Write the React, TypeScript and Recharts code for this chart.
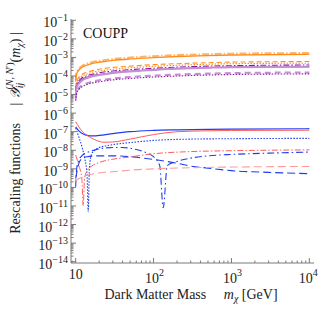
import { LineChart, Line, XAxis, YAxis } from "recharts"

const W = 320
const H = 314
const SERIF = "'Liberation Serif', 'DejaVu Serif', serif"
const FRAME = "#7a7a7a"

// orange / purple family, sampled on a common mass grid (GeV)
const massTop = [10, 10.2, 10.5, 11, 12, 14, 17, 20, 30, 50, 100, 200, 500, 1000, 10000]
const orangeDashDot = [6.1e-5, 1.4e-4, 1.9e-4, 2.5e-4, 3.5e-4, 4.7e-4, 5.9e-4, 6.6e-4, 8.3e-4, 1.0e-3, 1.18e-3, 1.35e-3, 1.51e-3, 1.62e-3, 1.74e-3]
const orangeSolid = [5.1e-5, 1.15e-4, 1.6e-4, 2.1e-4, 2.9e-4, 3.9e-4, 4.9e-4, 5.5e-4, 6.9e-4, 8.3e-4, 9.8e-4, 1.12e-3, 1.26e-3, 1.35e-3, 1.45e-3]
const orangeDashed = [2.1e-5, 4.8e-5, 6.6e-5, 8.7e-5, 1.2e-4, 1.6e-4, 2.0e-4, 2.3e-4, 2.9e-4, 3.4e-4, 4.1e-4, 4.6e-4, 5.2e-4, 5.6e-4, 6.0e-4]
const orangeDotted = [1.7e-5, 3.9e-5, 5.4e-5, 7.1e-5, 9.8e-5, 1.3e-4, 1.66e-4, 1.86e-4, 2.3e-4, 2.8e-4, 3.3e-4, 3.8e-4, 4.3e-4, 4.6e-4, 4.9e-4]
const purpleDashDot = [1.4e-5, 3.1e-5, 4.3e-5, 5.6e-5, 7.8e-5, 1.05e-4, 1.3e-4, 1.5e-4, 1.85e-4, 2.2e-4, 2.6e-4, 3.0e-4, 3.4e-4, 3.6e-4, 3.9e-4]
const purpleSolid = [9e-6, 2.5e-5, 3.5e-5, 4.6e-5, 6.4e-5, 8.6e-5, 1.08e-4, 1.2e-4, 1.5e-4, 1.8e-4, 2.15e-4, 2.5e-4, 2.8e-4, 3.0e-4, 3.2e-4]
const lilacSolid = [7e-6, 2.0e-5, 2.9e-5, 3.9e-5, 5.6e-5, 7.8e-5, 1.0e-4, 1.13e-4, 1.45e-4, 1.77e-4, 2.13e-4, 2.5e-4, 2.8e-4, 3.0e-4, 3.2e-4]
const lilacDashed = [5.5e-6, 1.2e-5, 1.7e-5, 2.3e-5, 3.1e-5, 4.1e-5, 5.2e-5, 5.9e-5, 7.4e-5, 8.9e-5, 1.05e-4, 1.2e-4, 1.35e-4, 1.45e-4, 1.55e-4]
const purpleDotted = [4.6e-6, 1.0e-5, 1.4e-5, 1.9e-5, 2.6e-5, 3.5e-5, 4.4e-5, 4.9e-5, 6.2e-5, 7.4e-5, 8.8e-5, 1.0e-4, 1.13e-4, 1.2e-4, 1.3e-4]

// blue / red family, each on its own grid (they have sharp zeros)
const blueSolidM = [10, 11, 12, 13, 14, 15, 17, 20, 30, 50, 100, 200, 500, 1000, 10000]
const blueSolid = [1.8e-7, 1.1e-7, 8.3e-8, 7.1e-8, 6.3e-8, 6.0e-8, 6.0e-8, 6.3e-8, 7.9e-8, 1.0e-7, 1.17e-7, 1.26e-7, 1.35e-7, 1.38e-7, 1.45e-7]
const redSolidM = [10, 11, 12, 14, 17, 20, 23, 30, 50, 100, 200, 500, 1000, 10000]
const redSolid = [3.5e-7, 1.8e-7, 1.1e-7, 6.3e-8, 4.0e-8, 3.0e-8, 2.7e-8, 2.8e-8, 4.0e-8, 7.0e-8, 1.0e-7, 1.12e-7, 1.17e-7, 1.2e-7]
const blueDottedM = [10, 11, 12, 13, 14, 14.5, 15, 16, 18, 20, 30, 50, 100, 300, 1000, 10000]
const blueDotted = [1.6e-7, 5e-8, 1.6e-8, 4e-9, 5e-10, 5e-12, 1e-9, 6.3e-9, 1.1e-8, 1.4e-8, 2.0e-8, 2.6e-8, 3.4e-8, 4.0e-8, 4.2e-8, 4.4e-8]
const blueDashDotM = [10, 10.3, 11, 12, 14, 17, 20, 30, 40, 60, 80, 100, 120, 133, 150, 200, 300, 500, 1000, 3000, 10000]
const blueDashDot = [1.1e-10, 1e-9, 3e-9, 5e-9, 7.5e-9, 1e-8, 1.2e-8, 1.4e-8, 1.4e-8, 1.1e-8, 7.5e-9, 4.5e-9, 1.5e-9, 8e-12, 1.5e-9, 2.5e-9, 3.8e-9, 5e-9, 6e-9, 7e-9, 8e-9]
const blueDashedM = [10, 11, 12, 14, 20, 30, 50, 100, 200, 300, 500, 1000, 3000, 10000]
const blueDashed = [3e-10, 2e-9, 3.5e-9, 4.5e-9, 5e-9, 5e-9, 4.5e-9, 3.2e-9, 2.0e-9, 1.4e-9, 1.1e-9, 8e-10, 6.5e-10, 5.5e-10]
const redDashDotM = [10, 11, 12, 12.5, 13, 14, 16, 20, 30, 50, 100, 300, 1000, 10000]
const redDashDot = [5.5e-9, 1.5e-9, 3e-10, 1e-11, 3e-10, 8e-10, 1.4e-9, 2.2e-9, 3.3e-9, 4.4e-9, 6.5e-9, 8.5e-9, 9.5e-9, 1.05e-8]
const redDashedM = [10, 11, 12, 14, 20, 30, 50, 100, 300, 1000, 10000]
const redDashed = [2.2e-10, 3e-10, 3.5e-10, 4.5e-10, 6e-10, 7e-10, 8.5e-10, 1e-9, 1.15e-9, 1.25e-9, 1.35e-9]

const xMajor = [10, 100, 1000, 10000]
const xMinor = [9, 20, 30, 40, 50, 60, 70, 80, 90, 200, 300, 400, 500, 600, 700, 800, 900, 2000, 3000, 4000, 5000, 6000, 7000, 8000, 9000]
const yExponents = [-14, -13, -12, -11, -10, -9, -8, -7, -6, -5, -4, -3, -2, -1]
const yMajor = yExponents.map((e) => Math.pow(10, e))
const yMinor = yExponents.slice(0, -1).flatMap((e) => [2, 3, 4, 5, 6, 7, 8, 9].map((k) => k * Math.pow(10, e)))

const ORANGE = "#ff8c1a"
const ORANGE_LIGHT = "#ffb366"
const PURPLE = "#8a1a9e"
const LILAC = "#c58fd6"
const BLUE = "#1f3cf0"
const RED = "#ff5c5c"
const PINK = "#ff9a9a"

const series = [
  { id: "oDD", m: massTop, v: orangeDashDot, color: ORANGE_LIGHT, w: 1.8, dash: "7 2 1.5 2" },
  { id: "oS", m: massTop, v: orangeSolid, color: ORANGE, w: 1.3 },
  { id: "oD", m: massTop, v: orangeDashed, color: ORANGE, w: 1.1, dash: "5 3" },
  { id: "oDt", m: massTop, v: orangeDotted, color: ORANGE, w: 1.1, dash: "1.5 1.5" },
  { id: "pDD", m: massTop, v: purpleDashDot, color: PURPLE, w: 1.1, dash: "6 2 1.5 2" },
  { id: "pS", m: massTop, v: purpleSolid, color: PURPLE, w: 1.1 },
  { id: "lS", m: massTop, v: lilacSolid, color: LILAC, w: 2 },
  { id: "lD", m: massTop, v: lilacDashed, color: LILAC, w: 2, dash: "6 4" },
  { id: "pDt", m: massTop, v: purpleDotted, color: PURPLE, w: 1.1, dash: "1.5 1.5" },
  { id: "bS", m: blueSolidM, v: blueSolid, color: BLUE, w: 1.2 },
  { id: "rS", m: redSolidM, v: redSolid, color: RED, w: 1 },
  { id: "bDt", m: blueDottedM, v: blueDotted, color: BLUE, w: 1.1, dash: "1.5 1.5" },
  { id: "bDD", m: blueDashDotM, v: blueDashDot, color: BLUE, w: 1.1, dash: "7 3 1.5 3" },
  { id: "bD", m: blueDashedM, v: blueDashed, color: BLUE, w: 1.1, dash: "8 4" },
  { id: "rDD", m: redDashDotM, v: redDashDot, color: RED, w: 1, dash: "6 2 1.5 2" },
  { id: "rD", m: redDashedM, v: redDashed, color: PINK, w: 1.1, dash: "8 4" },
]

const isDecade = (v: number) => Math.abs(Math.log10(v) - Math.round(Math.log10(v))) < 1e-6

function FrameTick(props: any) {
  const { x, y, payload, side } = props
  const v = payload.value as number
  const major = isDecade(v)
  const len = major ? 5 : 2.5
  const e = Math.round(Math.log10(v))
  const sup = e < 0 ? "\u2212" + -e : String(e)
  let mark
  let label = null
  if (side === "left") {
    mark = <line x1={x} x2={x + len} y1={y} y2={y} stroke={FRAME} />
    if (major)
      label = (
        <text x={x - 3} y={y + 7} textAnchor="end" fontSize={14} fontFamily={SERIF} fill="#222">
          10<tspan fontSize={10} dy={-6}>{sup}</tspan>
        </text>
      )
  } else if (side === "right") {
    mark = <line x1={x} x2={x - len} y1={y} y2={y} stroke={FRAME} />
  } else if (side === "top") {
    mark = <line x1={x} x2={x} y1={y} y2={y + len} stroke={FRAME} />
  } else {
    mark = <line x1={x} x2={x} y1={y} y2={y - len} stroke={FRAME} />
    if (major)
      label =
        e === 1 ? (
          <text x={x} y={y + 16} textAnchor="middle" fontSize={14} fontFamily={SERIF} fill="#222">
            10
          </text>
        ) : (
          <text x={e === 4 ? x - 1 : x + 1} y={y + 20} textAnchor="middle" fontSize={14} fontFamily={SERIF} fill="#222">
            10<tspan fontSize={10} dy={-7}>{sup}</tspan>
          </text>
        )
  }
  return (
    <g>
      {mark}
      {label}
    </g>
  )
}

const xDomain = [8.71, 11482]
const yDomain = [Math.pow(10, -14.07), Math.pow(10, -0.93)]

export default function App() {
  return (
    <div style={{ position: "relative", width: W, height: H }}>
      <style>{"body{margin:0}"}</style>
      <LineChart width={W} height={H} margin={{ top: 19, right: 6, bottom: 0, left: 0 }}>
        <XAxis
          xAxisId="b"
          type="number"
          dataKey="m"
          scale="log"
          domain={xDomain}
          allowDataOverflow
          ticks={[...xMinor, ...xMajor]}
          interval={0}
          height={51}
          tickSize={0}
          tickMargin={0}
          tickLine={false}
          axisLine={{ stroke: FRAME }}
          tick={(p: any) => <FrameTick {...p} side="bottom" />}
        />
        <XAxis
          xAxisId="t"
          orientation="top"
          type="number"
          scale="log"
          domain={xDomain}
          allowDataOverflow
          ticks={[...xMinor, ...xMajor]}
          interval={0}
          height={0}
          tickSize={0}
          tickMargin={0}
          tickLine={false}
          axisLine={{ stroke: FRAME }}
          tick={(p: any) => <FrameTick {...p} side="top" />}
        />
        <YAxis
          yAxisId="l"
          type="number"
          scale="log"
          domain={yDomain}
          allowDataOverflow
          ticks={[...yMinor, ...yMajor]}
          interval={0}
          width={71}
          tickSize={0}
          tickMargin={0}
          tickLine={false}
          axisLine={{ stroke: FRAME }}
          tick={(p: any) => <FrameTick {...p} side="left" />}
        />
        <YAxis
          yAxisId="r"
          orientation="right"
          type="number"
          scale="log"
          domain={yDomain}
          allowDataOverflow
          ticks={[...yMinor, ...yMajor]}
          interval={0}
          width={0}
          tickSize={0}
          tickMargin={0}
          tickLine={false}
          axisLine={{ stroke: FRAME }}
          tick={(p: any) => <FrameTick {...p} side="right" />}
        />
        {series.map((s) => (
          <Line
            key={s.id}
            xAxisId="b"
            yAxisId="l"
            data={s.m.map((m, i) => ({ m, val: s.v[i] }))}
            dataKey="val"
            type="monotone"
            stroke={s.color}
            strokeWidth={s.w}
            strokeDasharray={s.dash}
            dot={false}
            isAnimationActive={false}
          />
        ))}
      </LineChart>
      <svg width={W} height={H} style={{ position: "absolute", left: 0, top: 0, pointerEvents: "none" }}>
        <text x={83} y={38} fontSize={14} fontFamily={SERIF} fill="#111">
          COUPP
        </text>
        <text x={191} y={299} textAnchor="middle" fontSize={14} fontFamily={SERIF} fill="#222">
          Dark Matter Mass{"\u2003 "}
          <tspan fontStyle="italic">m</tspan>
          <tspan fontSize={10} dy={3} fontStyle="italic">χ</tspan>
          <tspan dy={-3}> [GeV]</tspan>
        </text>
        <text
          x={20}
          y={133}
          textAnchor="middle"
          fontSize={14}
          fontFamily={SERIF}
          fill="#222"
          transform="rotate(-90 20 133)"
        >
          Rescaling functions{"\u2003 "}|{" "}
          <tspan fontStyle="italic">𝒴</tspan>
          <tspan fontSize={10} dy={3} fontStyle="italic">ij</tspan>
          <tspan fontSize={10} dx={-7} dy={-10}>(<tspan fontStyle="italic">N</tspan>, <tspan fontStyle="italic">N</tspan>′)</tspan>
          <tspan dy={7}>(</tspan>
          <tspan fontStyle="italic">m</tspan>
          <tspan fontSize={10} dy={3} fontStyle="italic">χ</tspan>
          <tspan dy={-3}>) |</tspan>
        </text>
      </svg>
    </div>
  )
}
